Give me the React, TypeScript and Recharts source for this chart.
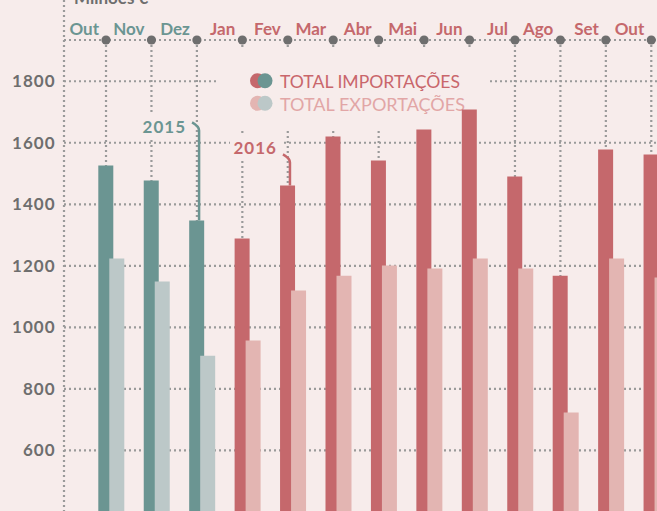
import React from 'react';
import { BarChart, Bar, XAxis, YAxis, CartesianGrid, Cell, LabelList, Customized } from 'recharts';

const months = ['Out', 'Nov', 'Dez', 'Jan', 'Fev', 'Mar', 'Abr', 'Mai', 'Jun', 'Jul', 'Ago', 'Set', 'Out'];
const years = ['2015', '2015', '2015', '2016', '2016', '2016', '2016', '2016', '2016', '2016', '2016', '2016', '2016'];
const importacoes = [1526, 1477, 1347, 1289, 1461, 1620, 1542, 1643, 1708, 1490, 1168, 1578, 1562];
const exportacoes = [1224, 1149, 908, 957, 1120, 1168, 1201, 1191, 1224, 1191, 723, 1224, 1162];
const yTicks = [400, 600, 800, 1000, 1200, 1400, 1600, 1800];
const yDomain = [400, 1934];
const annotations = [
  { index: 2, label: '2015', top: 1650, text: 1633 },
  { index: 4, label: '2016', top: 1546, text: 1565 },
];

const data = months.map((m, i) => ({ id: `${m}-${years[i]}`, imp: importacoes[i], exp: exportacoes[i] }));

const BG = '#f7eceb';
const COLORS: Record<string, { imp: string; exp: string }> = {
  '2015': { imp: '#6b9592', exp: '#bcc8c8' },
  '2016': { imp: '#c5686c', exp: '#e3b5b2' },
};
const GRID = '#9a9a9a';
const DARK = '#6e6e6e';
const FONT = 'Lato, "Open Sans", sans-serif';

const W = 679;
const H = 512;
const YW = 64;
const XH = 40;
const PADL = 24.3;
const N = months.length;

const masks = [
  { x1: 219, x2: 490, y1: 48, y2: 131 },
  { x1: 138, x2: 188, y1: 112, y2: 140 },
  { x1: 230, x2: 284, y1: 133, y2: 161 },
];

function splitSegments(a: number, b: number, cross: number, horizontal: boolean) {
  let segs: [number, number][] = [[Math.min(a, b), Math.max(a, b)]];
  masks.forEach((m) => {
    const inside = horizontal ? cross >= m.y1 && cross <= m.y2 : cross >= m.x1 && cross <= m.x2;
    if (!inside) return;
    const lo = horizontal ? m.x1 : m.y1;
    const hi = horizontal ? m.x2 : m.y2;
    const next: [number, number][] = [];
    segs.forEach(([s, e]) => {
      if (hi <= s || lo >= e) {
        next.push([s, e]);
      } else {
        if (lo > s) next.push([s, lo]);
        if (hi < e) next.push([hi, e]);
      }
    });
    segs = next;
  });
  return segs;
}

const lineStyle = { stroke: GRID, strokeWidth: 2.2, strokeDasharray: '2 3' };

function HLine(p: any) {
  const segs = splitSegments(p.x1, p.x2, p.y1, true);
  return (
    <g>
      {segs.map(([s, e], i) => (
        <line key={i} x1={s} x2={e} y1={p.y1} y2={p.y2} {...lineStyle} />
      ))}
    </g>
  );
}

function VLine(p: any) {
  const segs = splitSegments(p.y1, p.y2, p.x1, false);
  return (
    <g>
      {segs.map(([s, e], i) => (
        <line key={i} x1={p.x1} x2={p.x2} y1={s} y2={e} {...lineStyle} />
      ))}
    </g>
  );
}

function verticalGen(props: any) {
  const off = props && props.offset ? props.offset : { left: YW, width: W - YW };
  const left = off.left + PADL;
  const band = (off.width - PADL) / N;
  return months.map((_, i) => left + band * (i + 0.5) - 5);
}

function MonthTick(props: any) {
  const { x, payload } = props;
  const idx = payload && payload.index != null ? payload.index : props.index;
  const col = COLORS[years[idx]].imp;
  return (
    <g>
      <text x={x - 12} y={35} textAnchor="end" fill={col} fontFamily={FONT} fontWeight={700} fontSize={17}>
        {months[idx]}
      </text>
      <circle cx={x - 5} cy={XH} r={4.6} fill={DARK} />
    </g>
  );
}

function ValueTick(props: any) {
  const { y, payload } = props;
  return (
    <text
      x={YW - 8.5}
      y={y + 6}
      textAnchor="end"
      fill={DARK}
      fontFamily={FONT}
      fontWeight={700}
      fontSize={17}
      letterSpacing={1}
    >
      {payload.value}
    </text>
  );
}

function Annot(p: any) {
  const idx = p.index;
  const a = annotations.find((an) => an.index === idx);
  if (!a) return null;
  const vb = p.viewBox || {};
  const x = p.x != null ? p.x : vb.x;
  const y = p.y != null ? p.y : vb.y;
  const width = p.width != null ? p.width : vb.width;
  const height = p.height != null ? p.height : vb.height;
  const val = importacoes[idx];
  const k = height / (val - yDomain[0]);
  const yAt = (v: number) => y + (val - v) * k;
  const lx = x + width * 0.66;
  const top = yAt(a.top);
  const col = COLORS[years[idx]].imp;
  return (
    <g>
      <path
        d={`M${lx - 7},${top - 5} Q${lx},${top - 1} ${lx},${top + 3} L${lx},${y}`}
        fill="none"
        stroke={col}
        strokeWidth={2.5}
      />
      <text
        x={lx - 13}
        y={yAt(a.text)}
        textAnchor="end"
        fill={col}
        fontFamily={FONT}
        fontWeight={700}
        fontSize={17}
        letterSpacing={1}
      >
        {a.label}
      </text>
    </g>
  );
}

function Extras() {
  return (
    <g>
      <line x1={YW} x2={YW} y1={0} y2={XH} {...lineStyle} />
      <text x={74} y={3.5} fill={DARK} fontFamily={FONT} fontWeight={700} fontSize={17}>
        Milhões €
      </text>
      <circle cx={257.5} cy={80.7} r={7.5} fill={COLORS['2016'].imp} />
      <circle cx={265} cy={80.7} r={7.5} fill={COLORS['2015'].imp} />
      <circle cx={257.5} cy={103.3} r={7.5} fill={COLORS['2016'].exp} />
      <circle cx={265} cy={103.3} r={7.5} fill={COLORS['2015'].exp} />
      <text x={280} y={88} fill="#c9666b" fontFamily={FONT} fontSize={17} textLength={180} lengthAdjust="spacingAndGlyphs">
        TOTAL IMPORTAÇÕES
      </text>
      <text x={280} y={110.5} fill="#e2a6a6" fontFamily={FONT} fontSize={17} textLength={185} lengthAdjust="spacingAndGlyphs">
        TOTAL EXPORTAÇÕES
      </text>
    </g>
  );
}

export default function App() {
  return (
    <div style={{ position: 'absolute', top: 0, left: 0, width: 657, height: 511, overflow: 'hidden', background: BG }}>
      <BarChart width={W} height={H} data={data} margin={{ top: 0, right: 0, bottom: 0, left: 0 }} barGap={-4}>
        <CartesianGrid
          horizontal={HLine}
          vertical={VLine}
          verticalCoordinatesGenerator={verticalGen}
          stroke={GRID}
        />
        <XAxis
          dataKey="id"
          orientation="top"
          height={XH}
          padding={{ left: PADL, right: 0 }}
          interval={0}
          tickLine={false}
          axisLine={lineStyle}
          tick={MonthTick}
        />
        <YAxis
          type="number"
          domain={yDomain}
          ticks={yTicks}
          width={YW}
          allowDataOverflow
          tickLine={false}
          axisLine={lineStyle}
          tick={ValueTick}
        />
        <Customized component={<Extras />} />
        <Bar dataKey="imp" barSize={15} isAnimationActive={false}>
          {data.map((d, i) => (
            <Cell key={d.id} fill={COLORS[years[i]].imp} />
          ))}
          <LabelList dataKey="imp" content={Annot} />
        </Bar>
        <Bar dataKey="exp" barSize={15} isAnimationActive={false}>
          {data.map((d, i) => (
            <Cell key={d.id} fill={COLORS[years[i]].exp} />
          ))}
        </Bar>
      </BarChart>
    </div>
  );
}
